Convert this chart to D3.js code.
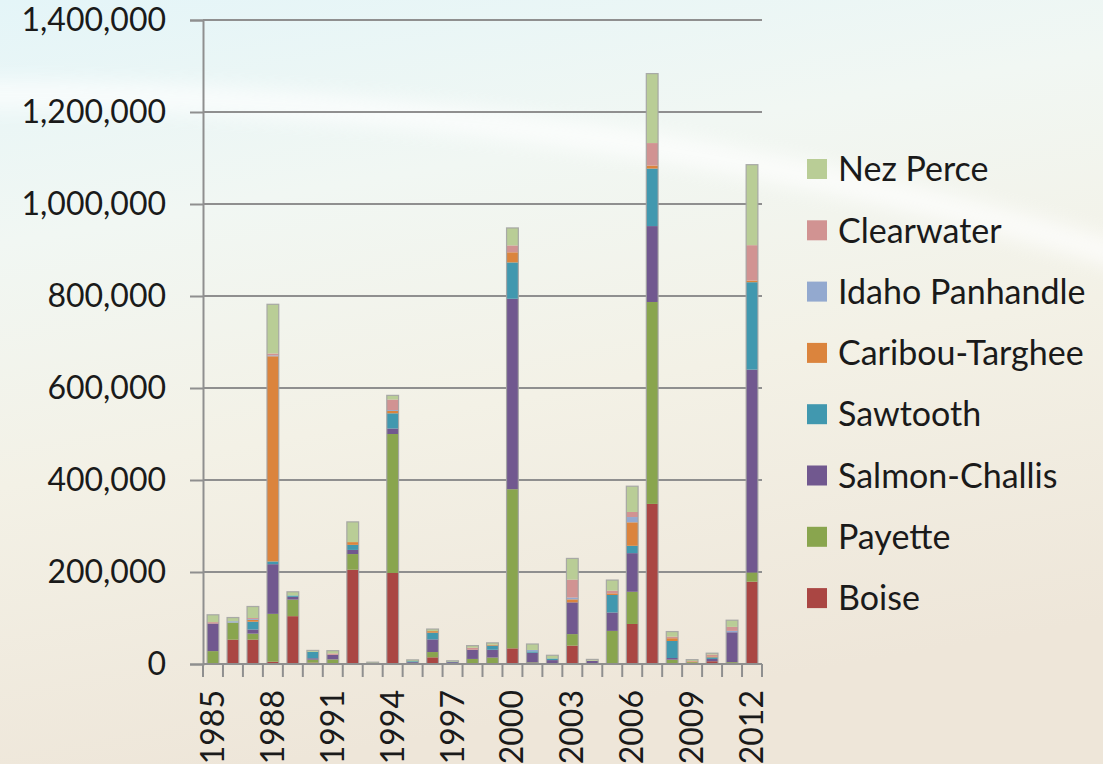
<!DOCTYPE html>
<html><head><meta charset="utf-8">
<script src="https://cdn.jsdelivr.net/npm/d3@7"></script>
<style>html,body{margin:0;padding:0;overflow:hidden;}svg{display:block;}</style>
</head><body>
<script>
const years = d3.range(1985, 2013).map(String);
const seriesNames = ["Boise","Payette","Salmon-Challis","Sawtooth","Caribou-Targhee","Idaho Panhandle","Clearwater","Nez Perce"];
const boise =          [0,53000,53000,5000,104000,3000,0,205000,0,198000,0,14500,0,0,0,34000,0,0,40000,0,0,87000,348000,0,0,6000,2000,179000];
const payette =        [28000,37000,13000,104000,36000,6500,10000,34000,0,302000,0,11500,0,11000,14000,346000,3500,1500,25000,1000,72000,70000,439000,9500,4000,0,2000,20000];
const salmonChallis =  [60000,0,9000,108000,6000,3000,10000,9000,1000,12000,4000,27500,4000,20000,17000,414000,21000,7000,69000,6000,40000,84000,165000,3500,0,5000,65000,441000];
const sawtooth =       [0,0,17000,6000,3000,14000,0,11000,0,33000,2000,14500,1000,0,9000,79000,3000,3500,0,0,38000,16000,125000,37000,0,3500,0,190000];
const caribouTarghee = [0,0,4000,446000,0,0,0,6000,0,5000,0,3500,0,0,2000,22000,0,0,6500,0,3500,51000,6500,6000,1500,2000,0,3500];
const idahoPanhandle = [0,3000,2000,2000,0,0,0,0,0,2000,0,0,0,0,0,0,3000,0,4000,0,0,11500,0,0,0,0,3000,0];
const clearwater =     [3000,0,2000,4000,0,0,3000,0,0,23000,0,0,0,4500,0,15000,0,0,39000,0,6000,11000,49000,3500,1000,4000,8700,77000];
const nezPerce =       [16000,8000,25000,107000,8000,3000,6000,44000,3000,9000,3000,4500,2000,4500,4000,38000,13000,7000,46000,3000,23000,56000,151000,11000,3000,3000,14500,175000];
const yTicks = [0,200000,400000,600000,800000,1000000,1200000,1400000];
const xLabelYears = ["1985","1988","1991","1994","1997","2000","2003","2006","2009","2012"];
const colors = ["#AA4643","#89A54E","#71588F","#4198AF","#DB843D","#93A9CF","#D19392","#B9CD96"];

const seriesValues = [boise,payette,salmonChallis,sawtooth,caribouTarghee,idahoPanhandle,clearwater,nezPerce];
const table = years.map((y,i)=>{const o={year:y}; seriesNames.forEach((s,k)=>o[s]=seriesValues[k][i]); return o;});

const W=1103,H=764;
const svg=d3.select("body").append("svg").attr("width",W).attr("height",H);
const defs=svg.append("defs");
const bg=defs.append("linearGradient").attr("id","bg").attr("x1",0).attr("y1",0).attr("x2",0.25).attr("y2",1);
bg.append("stop").attr("offset",0).attr("stop-color","#e4f5f8");
bg.append("stop").attr("offset",0.3).attr("stop-color","#f1f7f3");
bg.append("stop").attr("offset",0.6).attr("stop-color","#f3f1e6");
bg.append("stop").attr("offset",1).attr("stop-color","#eee6d9");
defs.append("filter").attr("id","blur").attr("x",-0.2).attr("y",-0.5).attr("width",1.4).attr("height",2)
  .append("feGaussianBlur").attr("stdDeviation",10);
svg.append("rect").attr("width",W).attr("height",H).attr("fill","url(#bg)");
svg.append("path").attr("d","M-50,95 Q600,90 1150,265").attr("fill","none")
  .attr("stroke","#ffffff").attr("stroke-width",26).attr("opacity",0.75).attr("filter","url(#blur)");

const x=d3.scaleBand().domain(years).range([203,762]).paddingInner(0.41).paddingOuter(0.205);
const y=d3.scaleLinear().domain([0,1400000]).range([664,20]);
const font="Lato, 'Open Sans', sans-serif";
const gridColor="#8f8f8f";

// gridlines
svg.append("g").selectAll("line").data(yTicks.filter(d=>d>0)).join("line")
  .attr("x1",203).attr("x2",762).attr("y1",d=>y(d)).attr("y2",d=>y(d))
  .attr("stroke",gridColor).attr("stroke-width",2);

// y axis
const yAxis=svg.append("g").attr("transform","translate(203,0)")
  .call(d3.axisLeft(y).tickValues(yTicks).tickFormat(d3.format(",")).tickSize(13).tickPadding(24));
yAxis.select(".domain").attr("stroke",gridColor).attr("stroke-width",2);
yAxis.selectAll(".tick line").attr("stroke",gridColor).attr("stroke-width",2);
yAxis.selectAll("text").attr("font-family",font).attr("font-size",32).attr("fill","#1a1a1a");

// stacked bars
const stack=d3.stack().keys(seriesNames)(table);
const bars=svg.append("g");
stack.forEach((layer,k)=>{
  bars.append("g").attr("fill",colors[k]).selectAll("rect").data(layer).join("rect")
    .attr("x",d=>x(d.data.year)).attr("width",x.bandwidth())
    .attr("y",d=>y(d[1])).attr("height",d=>Math.max(0,y(d[0])-y(d[1])));
});
// bar outlines
const totals=years.map((yr,i)=>({year:yr,total:d3.sum(seriesValues,s=>s[i])}));
svg.append("g").selectAll("rect").data(totals).join("rect")
  .attr("x",d=>x(d.year)).attr("width",x.bandwidth())
  .attr("y",d=>y(d.total)).attr("height",d=>y(0)-y(d.total))
  .attr("fill","none").attr("stroke","#a3a3a3").attr("stroke-width",1.2).attr("stroke-opacity",0.9);

// x axis
const xg=svg.append("g").attr("transform","translate(0,664)");
xg.append("line").attr("x1",203).attr("x2",762).attr("stroke",gridColor).attr("stroke-width",2);
const bounds=d3.range(years.length+1).map(i=>203+i*x.step());
xg.selectAll("line.tk").data(bounds).join("line").attr("class","tk")
  .attr("x1",d=>d).attr("x2",d=>d).attr("y1",0).attr("y2",13)
  .attr("stroke",gridColor).attr("stroke-width",2);
xg.selectAll("text").data(xLabelYears).join("text")
  .attr("transform",d=>`translate(${x(d)+x.bandwidth()/2+11},26) rotate(-90)`)
  .attr("text-anchor","end").attr("font-family",font).attr("font-size",32).attr("fill","#1a1a1a")
  .text(d=>d);

// legend
const legendOrder=seriesNames.map((s,k)=>({name:s,color:colors[k]})).reverse();
const lg=svg.append("g");
legendOrder.forEach((d,i)=>{
  const cy=169+i*61.3;
  lg.append("rect").attr("x",807).attr("y",cy-10).attr("width",20).attr("height",20).attr("fill",d.color);
  lg.append("text").attr("x",838).attr("y",cy).attr("dy","0.36em").attr("font-family",font)
    .attr("font-size",34).attr("fill","#1a1a1a").text(d.name);
});
</script>
</body></html>
